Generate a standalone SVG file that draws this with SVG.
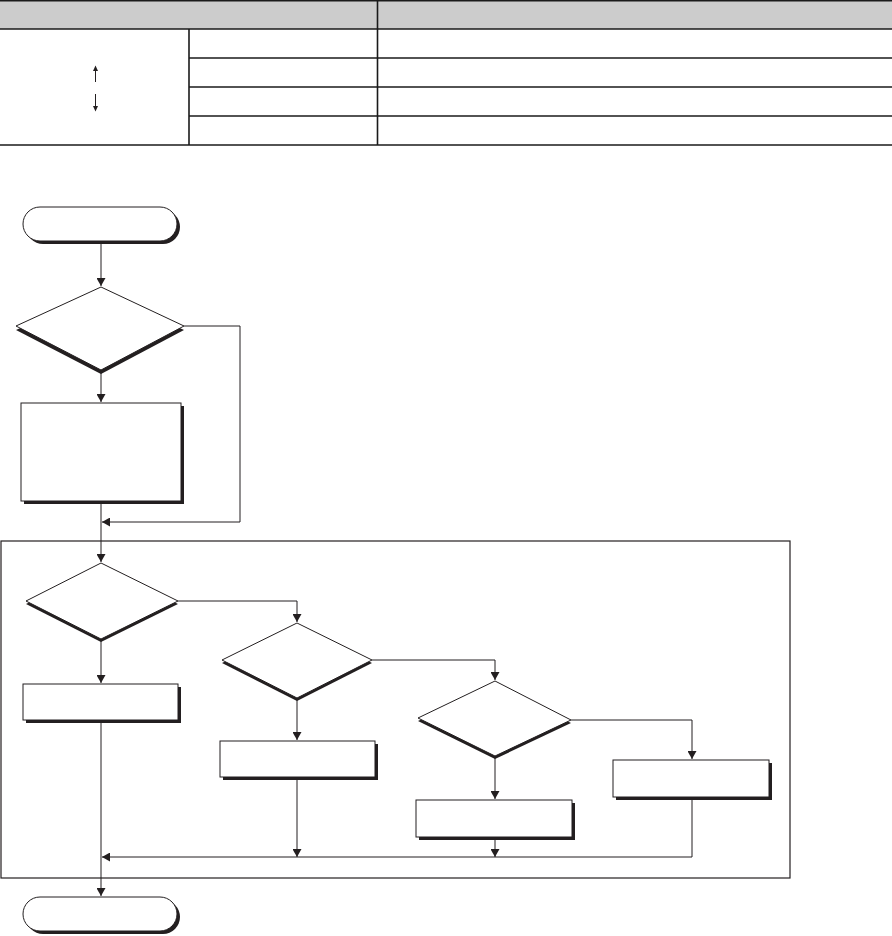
<svg xmlns="http://www.w3.org/2000/svg" width="892" height="936" viewBox="0 0 892 936">
<style>
.tl{stroke:#1a1a1a;stroke-width:1.6;fill:none}
.node{fill:#fff;stroke:#231f20;stroke-width:1}
.shadow{fill:#231f20;stroke:none}
.conn{fill:none;stroke:#231f20;stroke-width:1}
</style>
<defs>
<marker id="ah" markerUnits="userSpaceOnUse" markerWidth="9" markerHeight="9" refX="8" refY="4.5" orient="auto">
<path d="M0,0 L8,4.5 L0,9 z" fill="#231f20"/>
</marker>
</defs>
<rect width="892" height="936" fill="#fff"/>
<g id="table">
<rect x="0" y="0" width="892" height="29" fill="#cccccc"/>
<line class="tl" x1="0" y1="0.8" x2="892" y2="0.8"/>
<line class="tl" x1="0" y1="29" x2="892" y2="29"/>
<line class="tl" x1="189" y1="58" x2="892" y2="58"/>
<line class="tl" x1="189" y1="87" x2="892" y2="87"/>
<line class="tl" x1="189" y1="116" x2="892" y2="116"/>
<line class="tl" x1="0" y1="145" x2="892" y2="145"/>
<line class="tl" x1="189" y1="29" x2="189" y2="145"/>
<line class="tl" x1="377.5" y1="0" x2="377.5" y2="145"/>
<g id="table-arrows" fill="#231f20" stroke="#231f20">
<line x1="95.5" y1="70" x2="95.5" y2="82" stroke-width="1"/>
<path d="M93,71 L95.5,65.5 L98,71 z" stroke="none"/>
<line x1="95.5" y1="94" x2="95.5" y2="106" stroke-width="1"/>
<path d="M93,106 L95.5,111.5 L98,106 z" stroke="none"/>
</g>
</g>
<g id="container">
<rect x="1" y="541" width="789" height="337" fill="none" stroke="#231f20" stroke-width="1.2"/>
</g>
<g id="connectors">
<path class="conn" d="M101,242 V286" marker-end="url(#ah)"/>
<path class="conn" d="M101,371 V402" marker-end="url(#ah)"/>
<path class="conn" d="M184,326 H240 V522 H102" marker-end="url(#ah)"/>
<path class="conn" d="M101,501 V562" marker-end="url(#ah)"/>
<path class="conn" d="M101,640 V683" marker-end="url(#ah)"/>
<path class="conn" d="M178,601 H297 V622" marker-end="url(#ah)"/>
<path class="conn" d="M297,699 V740" marker-end="url(#ah)"/>
<path class="conn" d="M372,660 H495 V680" marker-end="url(#ah)"/>
<path class="conn" d="M495,757 V799" marker-end="url(#ah)"/>
<path class="conn" d="M571,720 H692 V759" marker-end="url(#ah)"/>
<path class="conn" d="M101,721 V896" marker-end="url(#ah)"/>
<path class="conn" d="M297,779 V857" marker-end="url(#ah)"/>
<path class="conn" d="M495,838 V857" marker-end="url(#ah)"/>
<path class="conn" d="M692,797 V857 H102" marker-end="url(#ah)"/>
</g>
<g id="start">
<rect class="shadow" x="26" y="210" width="154" height="34" rx="17"/>
<rect class="node" x="23" y="207" width="154" height="34" rx="17"/>
</g>
<g id="decision1">
<polygon class="shadow" points="101,291 184,330 101,374 16,330"/>
<polygon class="node" points="101,287 184,326 101,370 16,326"/>
</g>
<g id="process1">
<rect class="shadow" x="24" y="406" width="160" height="98"/>
<rect class="node" x="21" y="403" width="160" height="98"/>
</g>
<g id="decision2">
<polygon class="shadow" points="101,566 178,604 101,642 26,604"/>
<polygon class="node" points="101,563 178,601 101,639 26,601"/>
</g>
<g id="process2">
<rect class="shadow" x="26" y="687" width="155" height="36"/>
<rect class="node" x="23" y="684" width="155" height="36"/>
</g>
<g id="decision3">
<polygon class="shadow" points="297,626 372,663 297,701 222,663"/>
<polygon class="node" points="297,623 372,660 297,698 222,660"/>
</g>
<g id="process3">
<rect class="shadow" x="223" y="744" width="155" height="36"/>
<rect class="node" x="220" y="741" width="155" height="36"/>
</g>
<g id="decision4">
<polygon class="shadow" points="495,684 571,723 495,759 418,721"/>
<polygon class="node" points="495,681 571,720 495,756 418,718"/>
</g>
<g id="process4">
<rect class="shadow" x="419" y="803" width="156" height="37"/>
<rect class="node" x="416" y="800" width="156" height="37"/>
</g>
<g id="process5">
<rect class="shadow" x="616" y="763" width="156" height="37"/>
<rect class="node" x="613" y="760" width="156" height="37"/>
</g>
<g id="end">
<rect class="shadow" x="26" y="900" width="154" height="34" rx="17"/>
<rect class="node" x="23" y="897" width="154" height="34" rx="17"/>
</g>
</svg>
